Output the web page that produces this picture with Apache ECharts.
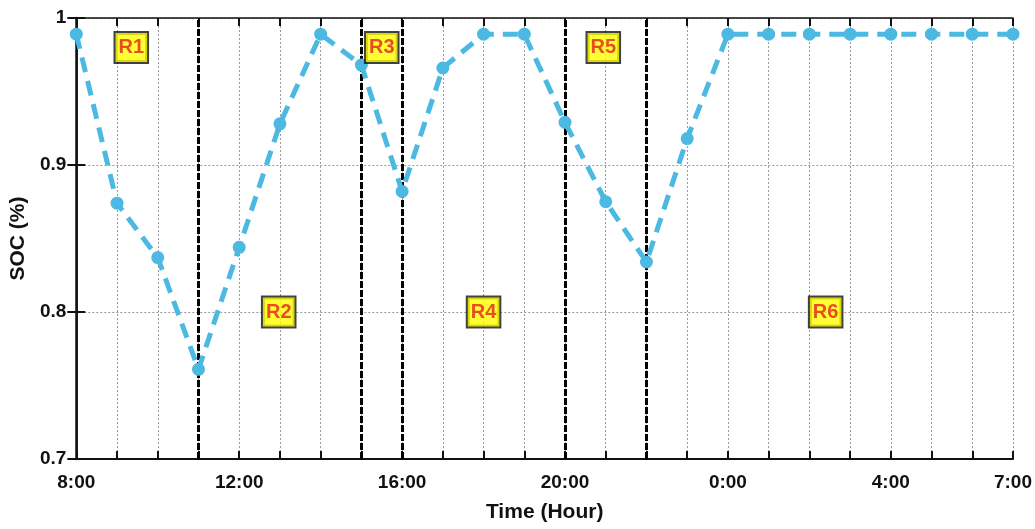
<!DOCTYPE html>
<html>
<head>
<meta charset="utf-8">
<script src="https://cdn.jsdelivr.net/npm/echarts@6/dist/echarts.min.js"></script>
<style>html,body{margin:0;padding:0;background:#fff}#c{width:1035px;height:529px}</style>
</head>
<body>
<div id="c"></div>
<script>
// Hours since 8:00 (0 = 8:00 ... 23 = 7:00 next day)
const hourLabels = ['8:00','9:00','10:00','11:00','12:00','13:00','14:00','15:00','16:00','17:00','18:00','19:00','20:00','21:00','22:00','23:00','0:00','1:00','2:00','3:00','4:00','5:00','6:00','7:00'];
const shownLabelIdx = [0,4,8,12,16,20,23];
const socValues = [0.989,0.874,0.837,0.761,0.844,0.928,0.989,0.968,0.882,0.966,0.989,0.989,0.929,0.875,0.834,0.918,0.989,0.989,0.989,0.989,0.989,0.989,0.989,0.989];
const boundaryHours = [3,7,8,12,14];
const regionNames = ['R1','R2','R3','R4','R5','R6'];
const regionX = [1.35,4.97,7.5,10.0,12.94,18.4];
const regionY = [0.98,0.8,0.98,0.8,0.98,0.8];
const yTicks = [0.7,0.8,0.9,1];

const chart = echarts.init(document.getElementById('c'));
const fontFam = '"Liberation Sans", Arial, sans-serif';
const lineData = socValues.map((v,i)=>[i,v]);
const regionData = regionNames.map((n,i)=>[regionX[i],regionY[i],n]);

chart.setOption({
  animation:false,
  grid:{left:76,right:21,top:18,bottom:70},
  xAxis:[{
    type:'value',min:0,max:23,interval:1,
    name:'Time (Hour)',nameLocation:'middle',nameGap:43,
    nameTextStyle:{fontFamily:fontFam,fontWeight:'bold',fontSize:21,color:'#111'},
    axisLine:{lineStyle:{color:'#111',width:2}},
    axisTick:{inside:true,length:8,lineStyle:{color:'#111',width:2}},
    axisLabel:{margin:14,fontFamily:fontFam,fontWeight:'bold',fontSize:19,color:'#111',
      formatter:function(v){const i=Math.round(v);return shownLabelIdx.indexOf(i)>=0?hourLabels[i]:'';}},
    splitLine:{show:true,lineStyle:{color:'#9a9a9a',width:1,type:[2,2]}}
  },{
    type:'value',position:'top',min:0,max:23,interval:1,
    axisLine:{lineStyle:{color:'#111',width:1.5}},
    axisTick:{inside:true,length:8,lineStyle:{color:'#111',width:2}},
    axisLabel:{show:false},splitLine:{show:false}
  }],
  yAxis:[{
    type:'value',min:0.7,max:1,interval:0.1,
    name:'SOC (%)',nameLocation:'middle',nameGap:40,
    nameTextStyle:{fontFamily:fontFam,fontWeight:'bold',fontSize:21,color:'#111'},
    axisLine:{show:true,lineStyle:{color:'#111',width:2.5}},
    axisTick:{show:true,inside:true,length:9,lineStyle:{color:'#111',width:2}},
    axisLabel:{margin:10,fontFamily:fontFam,fontWeight:'bold',fontSize:19,color:'#111',
      formatter:function(v){const r=Math.round(v*10)/10;return yTicks.indexOf(r)>=0?String(r):'';}},
    splitLine:{show:true,lineStyle:{color:'#9a9a9a',width:1,type:[2,2]}}
  },{
    type:'value',position:'right',min:0.7,max:1,interval:0.1,
    axisLine:{show:true,lineStyle:{color:'#111',width:1.5}},
    axisTick:{show:true,inside:true,length:9,lineStyle:{color:'#111',width:2}},
    axisLabel:{show:false},splitLine:{show:false}
  }],
  series:[{
    type:'line',data:lineData,
    symbol:'circle',symbolSize:13,
    itemStyle:{color:'#4cb9e3'},
    lineStyle:{color:'#4cb9e3',width:5,type:[15,9]},
    z:5,
    markLine:{
      silent:true,symbol:'none',label:{show:false},
      lineStyle:{color:'#000',width:3,type:[7,2]},
      data:boundaryHours.map(h=>({xAxis:h}))
    }
  },{
    type:'scatter',data:regionData,symbolSize:0,z:10,
    label:{show:true,position:'inside',formatter:p=>p.data[2],
      fontFamily:fontFam,fontWeight:'bold',fontSize:20,lineHeight:22,color:'#e3201b',
      backgroundColor:'#ffff00',borderColor:'#111',borderWidth:2,padding:[4,3,3,3]}
  }]
});
</script>
</body>
</html>
